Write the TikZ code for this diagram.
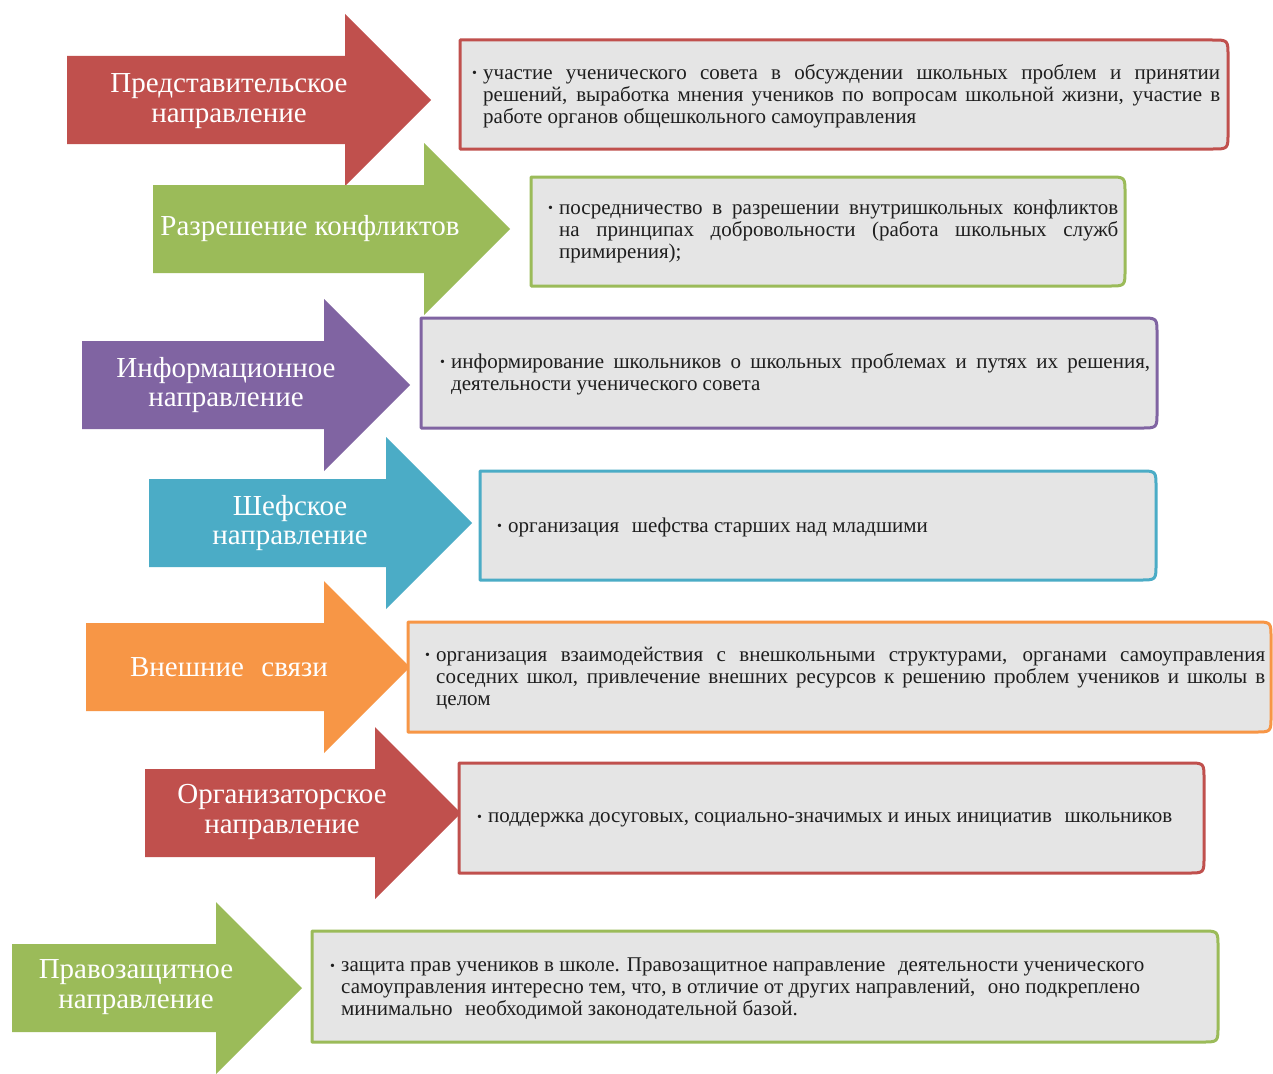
\documentclass[tikz,border=0pt]{standalone}
\usepackage{fontspec}
\setmainfont{Liberation Serif}
\definecolor{cRed}{HTML}{C0504D}
\definecolor{cGreen}{HTML}{9BBB59}
\definecolor{cPurple}{HTML}{8064A2}
\definecolor{cTeal}{HTML}{4BACC6}
\definecolor{cOrange}{HTML}{F79646}
\definecolor{boxgray}{HTML}{E5E5E5}
\definecolor{txtgray}{HTML}{1E1E1E}
\hyphenpenalty=10000
\exhyphenpenalty=10000
% block arrow: colour, left x, head base x, centre y
\newcommand\blockarrow[4]{%
  \fill[#1] (#2,#4-44) -- (#3,#4-44) -- (#3,#4-86) -- (#3+86,#4)
    -- (#3,#4+86) -- (#3,#4+44) -- (#2,#4+44) -- cycle;}
% info box: colour, left x, top y, right x, bottom y
\newcommand\infobox[5]{%
  \draw[#1, line width=3pt, fill=boxgray, line join=round]
    (#2,#3) -- (#4-16,#3) .. controls (#4,#3) .. (#4,#3+16)
    -- (#4,#5-16) .. controls (#4,#5) .. (#4-16,#5) -- (#2,#5) -- cycle;}
% bulleted paragraph: width, text
\newcommand\bulpar[2]{\parbox{#1}{\leftskip=11pt\relax\noindent\llap{\makebox[11pt][l]{\raisebox{0.15ex}{\fontsize{14}{14}\selectfont\textbullet}}}#2}}
\newcommand\dsp{\hspace{0.35em}}
\tikzset{
  arrowtext/.style={text=white, align=center, inner sep=0pt,
    font=\fontsize{29}{29.5}\selectfont},
  boxtext/.style={text=txtgray, inner sep=0pt, anchor=west,
    font=\fontsize{21}{22}\selectfont},
}
\begin{document}
\begin{tikzpicture}[x=1pt, y=-1pt]
\useasboundingbox[fill=white] (0,0) rectangle (1273,1073);

% row 1
\blockarrow{cRed}{67}{345}{100}
\node[arrowtext] (a1) at (229,101) {Представительское\\направление};
\infobox{cRed}{460}{40}{1228}{149}
\node[boxtext] (t1) at (472,96) {\bulpar{748pt}{участие ученического совета в обсуждении школьных проблем и принятии\linebreak решений, выработка мнения учеников по вопросам школьной жизни, участие в\linebreak работе органов общешкольного самоуправления}};

% row 2
\blockarrow{cGreen}{153}{424}{229}
\node[arrowtext] (a2) at (310,229) {Разрешение конфликтов};
\infobox{cGreen}{531}{177}{1125}{286}
\node[boxtext] (t2) at (548,231) {\bulpar{570pt}{посредничество в разрешении внутришкольных конфликтов\linebreak на принципах добровольности (работа школьных служб\linebreak примирения);}};

% row 3
\blockarrow{cPurple}{82}{324}{385}
\node[arrowtext] (a3) at (226,385) {Информационное\\направление};
\infobox{cPurple}{421}{318}{1157}{428}
\node[boxtext] (t3) at (440,374) {\bulpar{710pt}{информирование школьников о школьных проблемах и путях их решения,\linebreak деятельности ученического совета}};

% row 4
\blockarrow{cTeal}{149}{386}{523}
\node[arrowtext] (a4) at (290,523) {Шефское\\направление};
\infobox{cTeal}{480}{471}{1156}{580}
\node[boxtext] (t4) at (497,527) {\bulpar{640pt}{организация\dsp{} шефства старших над младшими}};

% row 5
\blockarrow{cOrange}{86}{324}{667}
\node[arrowtext] (a5) at (229,667) {Внешние\dsp{} связи};
\infobox{cOrange}{408}{622}{1271}{732}
\node[boxtext] (t5) at (425,678) {\bulpar{840pt}{организация взаимодействия с внешкольными структурами, органами самоуправления\linebreak соседних школ, привлечение внешних ресурсов к решению проблем учеников и школы в\linebreak целом}};

% row 6
\blockarrow{cRed}{145}{375}{813}
\node[arrowtext] (a6) at (282,812) {Организаторское\\направление};
\infobox{cRed}{459}{763}{1204}{873}
\node[boxtext] (t6) at (477,820) {\bulpar{705pt}{поддержка досуговых, социально-значимых и иных инициатив\dsp{} школьников}};

% row 7
\blockarrow{cGreen}{12}{216}{988}
\node[arrowtext] (a7) at (136,987) {Правозащитное\\направление};
\infobox{cGreen}{312}{931}{1218}{1042}
\node[boxtext] (t7) at (330,989) {\bulpar{850pt}{\raggedright\leftskip=11pt\relax защита прав учеников в школе. Правозащитное направление\dsp{} деятельности ученического\newline самоуправления интересно тем, что, в отличие от других направлений,\dsp{} оно подкреплено\newline минимально\dsp{} необходимой законодательной базой.}};
\end{tikzpicture}
\end{document}
